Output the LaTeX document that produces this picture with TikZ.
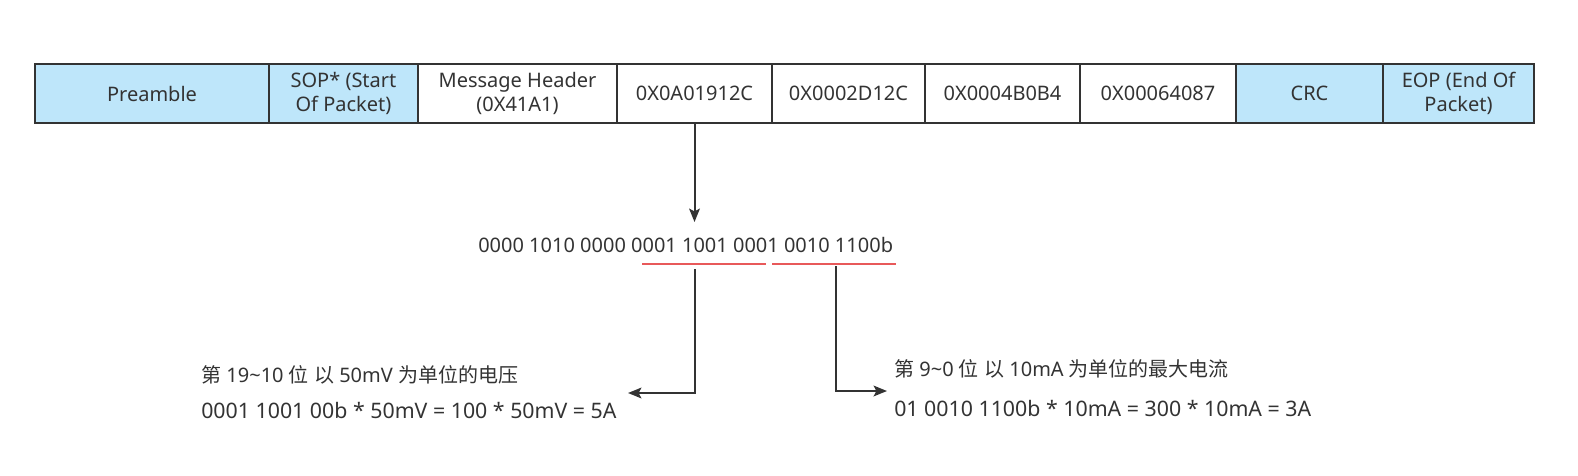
\documentclass[tikz,border=0pt]{standalone}
\usepackage{fontspec}
\setmainfont{Noto Sans}
\newfontfamily\cjkfont{Noto Sans CJK SC}
\newcommand{\zh}[1]{{\cjkfont #1}}
\usetikzlibrary{positioning,arrows.meta}
\usepackage{xcolor}
\definecolor{pktblue}{HTML}{BEE6FA}
\definecolor{ink}{HTML}{333333}
\definecolor{fieldred}{HTML}{E8595A}

\begin{document}
\begin{tikzpicture}[x=0.75pt,y=-0.75pt,
        font=\fontsize{15}{18}\selectfont, text=ink,
        cell/.style={draw=ink, line width=1.5pt, minimum height=44.25pt,
            inner sep=0pt, outer sep=0pt, align=center},
        blue cell/.style={cell, fill=pktblue},
        arr/.style={draw=ink, line width=1.5pt, -{Stealth[length=10pt,width=8pt,inset=2pt]}},
        fieldline/.style={draw=fieldred, line width=1.5pt},
        calc/.style={anchor=west, inner sep=0pt, font=\fontsize{16}{19}\selectfont}]
    \def\px{0.75pt}
    \useasboundingbox (0,0) rectangle (1578,475);

    % packet fields
    \node[blue cell, anchor=north west, minimum width=234*\px] (pre) at (35,64) {Preamble};
    \node[blue cell, minimum width=149*\px, right=0pt of pre] (sop) {SOP* (Start\\Of Packet)};
    \node[cell, minimum width=199*\px, right=0pt of sop] (hdr) {Message Header\\(0X41A1)};
    \node[cell, minimum width=155*\px, right=0pt of hdr] (f1) {0X0A01912C};
    \node[cell, minimum width=153*\px, right=0pt of f1] (f2) {0X0002D12C};
    \node[cell, minimum width=155*\px, right=0pt of f2] (f3) {0X0004B0B4};
    \node[cell, minimum width=156*\px, right=0pt of f3] (f4) {0X00064087};
    \node[blue cell, minimum width=147*\px, right=0pt of f4] (crc) {CRC};
    \node[blue cell, minimum width=151*\px, right=0pt of crc] (eop) {EOP (End Of\\Packet)};

    % bits of the first object
    \node[anchor=west, inner sep=0pt] (bits) at (478,245) {0000 1010 0000 0001 1001 0001 0010 1100b};
    \coordinate (bitstop) at (694,222);
    \draw[arr] (f1.south) -- (f1.south |- bitstop);

    \coordinate (vlo) at (642,264);
    \coordinate (vhi) at (766,264);
    \coordinate (clo) at (772,264);
    \coordinate (chi) at (896,264);
    \draw[fieldline] (vlo) -- (vhi);
    \draw[fieldline] (clo) -- (chi);

    % voltage
    \coordinate (vstart) at (695,269);
    \coordinate (vtip) at (628,393);
    \draw[arr] (vstart) |- (vtip);
    \node[anchor=west, inner sep=0pt] (vtitle) at (201,375) {\zh{第} 19\textasciitilde10 \zh{位} \zh{以} 50mV \zh{为单位的电压}};
    \node[calc] (vcalc) at (201,410) {0001 1001 00b * 50mV = 100 * 50mV = 5A};

    % current
    \coordinate (cstart) at (836,266);
    \coordinate (ctip) at (887,391);
    \draw[arr] (cstart) |- (ctip);
    \node[anchor=west, inner sep=0pt] (ctitle) at (894,369) {\zh{第} 9\textasciitilde0 \zh{位} \zh{以} 10mA \zh{为单位的最大电流}};
    \node[calc] (ccalc) at (894,408) {01 0010 1100b * 10mA = 300 * 10mA = 3A};
\end{tikzpicture}
\end{document}
